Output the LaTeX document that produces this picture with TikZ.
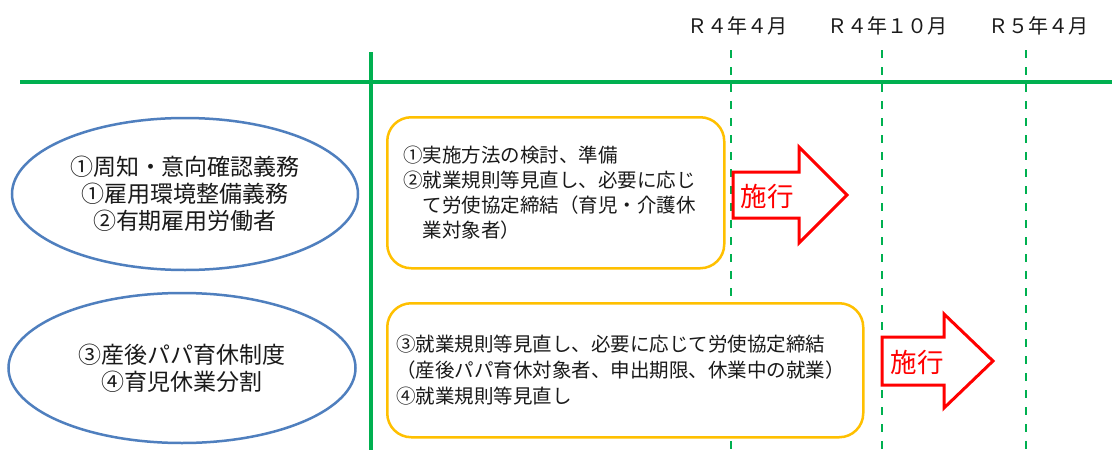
\documentclass[tikz,border=0pt]{standalone}
\usepackage{fontspec}
\setmainfont{Noto Sans CJK JP}
\usetikzlibrary{shapes.geometric}
\definecolor{lgreen}{HTML}{00B050}
\definecolor{eblue}{HTML}{4F7FBE}
\definecolor{borange}{HTML}{FFC000}
\definecolor{ared}{HTML}{FF0000}
\definecolor{tgray}{HTML}{1A1A1A}
\begin{document}
\begin{tikzpicture}[x=1pt,y=-1pt,
  gline/.style={draw=lgreen,line width=4pt},
  dline/.style={draw=lgreen,line width=2.5pt,dash pattern=on 8pt off 9pt},
  datelbl/.style={font=\fontsize{20}{24}\selectfont,text=tgray,inner sep=0pt},
  ell/.style={ellipse,draw=eblue,line width=2.5pt,fill=white,inner sep=0pt,
    align=center,text=tgray,font=\fontsize{23}{27}\selectfont},
  planbox/.style={draw=borange,line width=2.5pt,rounded corners=24pt,fill=white,
    inner sep=0pt,align=left,text=tgray,font=\fontsize{19.5}{25}\selectfont},
  redarrow/.style={draw=ared,line width=3pt,fill=white,line join=miter},
  arrowlbl/.style={text=ared,font=\fontsize{26.5}{30}\selectfont,inner sep=0pt}
]
\useasboundingbox (0,0) rectangle (1112,450);
\fill[white] (0,0) rectangle (1112,450);

% dashed time lines
\coordinate (d1t) at (731,50); \coordinate (d1b) at (731,450);
\coordinate (d2t) at (882,50); \coordinate (d2b) at (882,450);
\coordinate (d3t) at (1026,50); \coordinate (d3b) at (1026,450);
\draw[dline] (d1t) -- (d1b);
\draw[dline] (d2t) -- (d2b);
\draw[dline] (d3t) -- (d3b);

% main axes
\coordinate (hl) at (20,82); \coordinate (hr) at (1112,82);
\coordinate (vt) at (371,52); \coordinate (vb) at (371,450);
\draw[gline] (hl) -- (hr);
\draw[gline] (vt) -- (vb);

% date labels
\node[datelbl] (l1) at (737,26) {Ｒ４年４月};
\node[datelbl] (l2) at (887,26) {Ｒ４年１０月};
\node[datelbl] (l3) at (1038,26) {Ｒ５年４月};

% ellipses
\node[ell,minimum width=346pt,minimum height=152pt] (e1) at (185,194)
  {①周知・意向確認義務\\①雇用環境整備義務\\②有期雇用労働者};
\node[ell,minimum width=347pt,minimum height=150pt] (e2) at (182,368)
  {③産後パパ育休制度\\④育児休業分割};

% boxes
\node[planbox,anchor=north west,minimum width=337pt,minimum height=151pt,text width=305pt] (b1) at (386,116)
  {①実施方法の検討、準備\\②就業規則等見直し、必要に応じ\\\phantom{②}て労使協定締結（育児・介護休\\\phantom{②}業対象者）};
\node[planbox,anchor=north west,minimum width=476pt,minimum height=134pt,text width=458pt,
  font=\fontsize{19.5}{26}\selectfont] (b2) at (386,302)
  {③就業規則等見直し、必要に応じて労使協定締結\\（産後パパ育休対象者、申出期限、休業中の就業）\\④就業規則等見直し};

% arrows
\draw[redarrow] (733,172) -- (799,172) -- (799,147) -- (847,195) -- (799,243) -- (799,218) -- (733,218) -- cycle;
\node[arrowlbl] (s1) at (767,196) {施行};
\draw[redarrow] (882,337) -- (944,337) -- (944,314) -- (993,361) -- (944,408) -- (944,385) -- (882,385) -- cycle;
\node[arrowlbl] (s2) at (917,362) {施行};
\end{tikzpicture}
\end{document}
